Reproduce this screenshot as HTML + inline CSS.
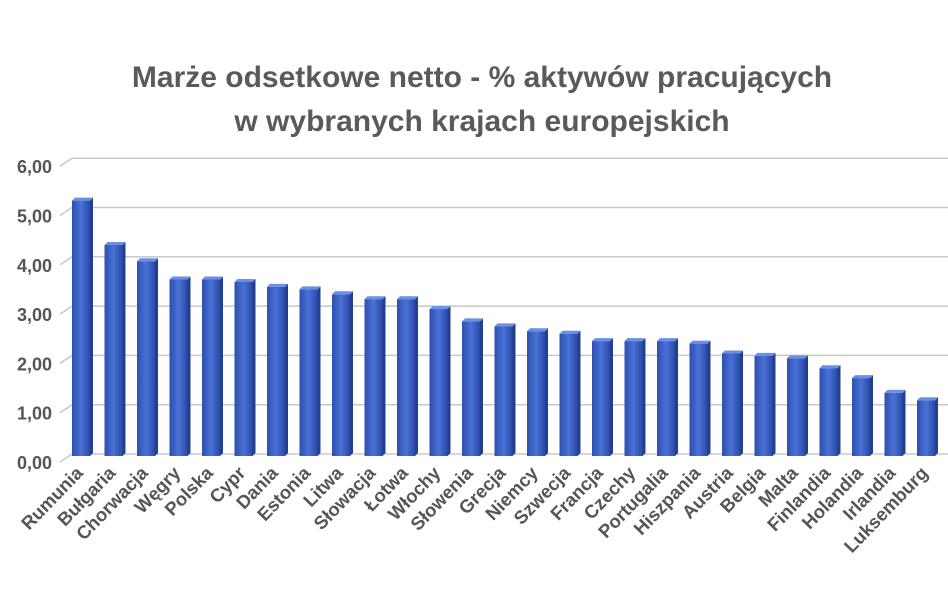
<!DOCTYPE html>
<html><head><meta charset="utf-8"><style>
body{margin:0;background:#fff;width:948px;height:593px;overflow:hidden;font-family:"Liberation Sans",sans-serif}
</style></head><body>
<svg width="948" height="593">
<defs>
<linearGradient id="g" x1="0" x2="1"><stop offset="0" stop-color="#2c4fb0"/><stop offset="0.5" stop-color="#4a72d6"/><stop offset="1" stop-color="#2a4aa8"/></linearGradient>
</defs>
<text x="482" y="87" text-anchor="middle" font-size="30" font-weight="bold" fill="#5a5a5a">Marże odsetkowe netto - % aktywów pracujących</text>
<text x="482" y="131" text-anchor="middle" font-size="30" font-weight="bold" fill="#5a5a5a">w wybranych krajach europejskich</text>
<g id="grid"></g><g id="bars"></g><g id="labels"></g>
</svg>
<script>
const categories=["Rumunia","Bułgaria","Chorwacja","Węgry","Polska","Cypr","Dania","Estonia","Litwa","Słowacja","Łotwa","Włochy","Słowenia","Grecja","Niemcy","Szwecja","Francja","Czechy","Portugalia","Hiszpania","Austria","Belgia","Malta","Finlandia","Holandia","Irlandia","Luksemburg"];
const values=[5.2,4.3,3.97,3.6,3.6,3.55,3.45,3.4,3.3,3.2,3.2,3.0,2.75,2.65,2.55,2.5,2.35,2.35,2.35,2.3,2.1,2.05,2.0,1.8,1.6,1.3,1.15];
const ticks=[0,1,2,3,4,5,6];
const tickLabels=["0,00","1,00","2,00","3,00","4,00","5,00","6,00"];
const NS="http://www.w3.org/2000/svg";
function y(v){return 454-49.3*v;}
function x(i){return 72+i*32.5;}
function mk(t,a,p){const e=document.createElementNS(NS,t);for(const k in a)e.setAttribute(k,a[k]);p.appendChild(e);return e;}
const G=document.getElementById('grid'),B=document.getElementById('bars'),L=document.getElementById('labels');
ticks.forEach((t,i)=>{
 const l=mk('polyline',{points:`${60},${y(t)+8} ${72},${y(t)} 948,${y(t)}`,fill:'none',stroke:'#c8c8c8','stroke-width':1.5},G);
 
 
 const tx=mk('text',{x:52,y:y(t)+15,'text-anchor':'end','font-size':18,'font-weight':'bold',fill:'#555'},G);
 tx.textContent=tickLabels[i];
 
 
});
values.forEach((v,i)=>{
 const x0=x(i),w=18,top=y(v),bot=456;
 const g=mk('g',{},B);
 
 
 mk('polygon',{points:`${x0+w},${top+3} ${x0+w+3},${top} ${x0+w+3},${bot-3} ${x0+w},${bot}`,fill:'#22408f'},g);
 mk('polygon',{points:`${x0},${top+3} ${x0+3},${top} ${x0+w+3},${top} ${x0+w},${top+3}`,fill:'#6a8fe6'},g);
 mk('rect',{x:x0,y:top+3,width:w,height:bot-top-3,fill:'url(#g)'},g);
 const cx=x0+w/2+3;
 const t=mk('text',{x:cx,y:474,'text-anchor':'end','font-size':18.5,'font-weight':'bold',fill:'#555',transform:`rotate(-46 ${cx} 474)`},L);
 t.textContent=categories[i];
 
 
});
</script>
</body></html>
